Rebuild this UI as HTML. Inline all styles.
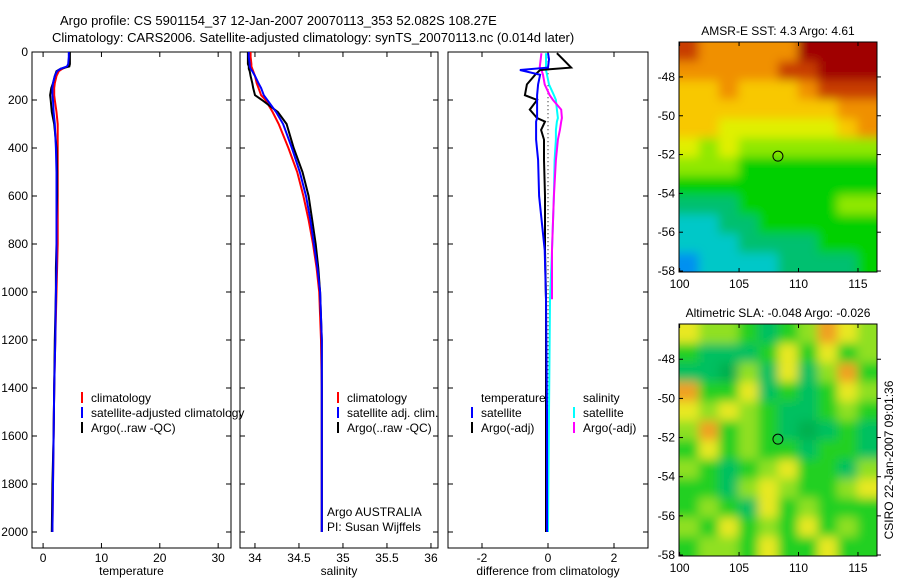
<!DOCTYPE html>
<html><head><meta charset="utf-8"><style>
body{margin:0;background:#fff;}
svg{display:block;font-family:"Liberation Sans",sans-serif;}
</style></head><body>
<svg id="fig" width="900" height="580" viewBox="0 0 900 580">
<defs>
<filter id="soft" x="-5%" y="-5%" width="110%" height="110%"><feGaussianBlur stdDeviation="5"/></filter>
<clipPath id="clip1"><rect x="679" y="42" width="198" height="230"/></clipPath>
<clipPath id="clip2"><rect x="679" y="324" width="198" height="232"/></clipPath>
</defs>
<text x="60" y="25" font-size="13">Argo profile: CS 5901154_37 12-Jan-2007 20070113_353 52.082S 108.27E</text>
<text x="52" y="42" font-size="13">Climatology: CARS2006. Satellite-adjusted climatology: synTS_20070113.nc (0.014d later)</text>
<g id="g"></g>
</svg>
<script>
// ---------- data ----------
const depths = [0,20,50,60,70,80,100,130,150,180,200,250,300,400,500,600,700,800,900,1000,1200,1400,1600,1800,2000];
const tempArgo = [4.6,4.6,4.6,4.5,3.0,2.3,2.0,1.7,1.4,1.2,1.3,1.5,1.9,2.3,2.4,2.4,2.3,2.3,2.2,2.2,2.0,1.9,1.8,1.6,1.5];
const tempClim = [4.5,4.5,4.4,4.2,3.3,2.7,2.3,2.0,1.9,1.9,2.0,2.3,2.5,2.5,2.5,2.5,2.5,2.5,2.4,2.3,2.1,1.9,1.8,1.7,1.6];
const tempSat = [4.4,4.4,4.3,4.1,3.0,2.4,2.0,1.7,1.6,1.6,1.7,1.8,2.0,2.2,2.3,2.3,2.3,2.3,2.3,2.2,2.1,1.9,1.8,1.7,1.6];
const salArgo = [33.92,33.92,33.92,33.93,33.93,33.94,33.95,33.97,33.98,34.0,34.08,34.26,34.36,34.44,34.54,34.61,34.65,34.69,34.72,34.74,34.76,34.76,34.76,34.76,34.76];
const salClim = [33.95,33.95,33.96,33.96,33.97,33.98,34.0,34.02,34.04,34.07,34.12,34.2,34.27,34.38,34.48,34.55,34.61,34.66,34.7,34.73,34.75,34.76,34.76,34.76,34.76];
const salSat = [33.93,33.93,33.94,33.94,33.95,33.97,34.0,34.04,34.07,34.1,34.14,34.24,34.32,34.42,34.51,34.58,34.63,34.67,34.71,34.74,34.76,34.76,34.76,34.76,34.76];
const diffDepths = [5,30,65,75,95,135,180,200,240,275,290,325,365,450,600,825,1030,1500,2000];
const dTempArgo = [0.27,0.45,0.7,-0.24,-0.39,-0.64,-0.7,-0.33,-0.55,-0.33,-0.09,-0.21,-0.12,-0.12,-0.09,-0.09,-0.06,-0.06,-0.06];
const dTempSat = [0,0.03,0,-0.85,-0.24,-0.3,-0.33,-0.33,-0.33,-0.33,-0.36,-0.36,-0.36,-0.3,-0.27,-0.1,-0.06,-0.03,-0.03];
const dSalSat = [-0.06,-0.06,-0.06,-0.06,-0.03,0.03,0.18,0.24,0.27,0.3,0.27,0.24,0.24,0.2,0.18,0.12,0.06,0.03,0];
const dSalArgo = [-0.2,-0.22,-0.25,-0.2,-0.15,-0.1,0.05,0.15,0.4,0.42,0.4,0.36,0.3,0.24,0.18,0.12,0.12,null,null];
const depthTicks = [0,200,400,600,800,1000,1200,1400,1600,1800,2000];
const tempTicks = [0,10,20,30];
const salTicks = [34,34.5,35,35.5,36];
const diffTicks = [-2,0,2];
const sstPalette = ['#a00000','#c83c00','#f09000','#f8c800','#e0f000','#90e800','#00d000','#00c070','#00c8c8','#0090f0'];
const sstGrid = [
[1,2,2,2,2,2,0,0,0,0],[2,2,2,2,2,1,1,0,0,0],[3,3,2,3,3,3,2,1,1,1],[3,3,3,3,3,3,3,3,2,2],
[3,3,4,4,4,4,4,4,3,2],[4,5,4,5,5,5,5,5,5,5],[5,5,5,6,6,6,6,6,6,6],[6,6,6,6,6,6,6,6,6,6],
[7,7,7,6,6,6,6,6,5,5],[8,8,7,7,6,6,6,6,6,6],[8,8,8,7,7,7,7,6,6,6],[9,8,8,8,8,7,7,7,7,6]];
const slaPalette = ['#00b050','#00c060','#20d020','#90e020','#e8e820','#f0a020'];
const slaGrid = [
[4,3,3,2,1,2,3,5,4,3],[2,1,1,1,2,4,2,4,2,3],[1,1,0,3,1,4,1,3,5,2],[5,2,2,4,1,2,1,2,4,3],
[4,3,4,3,2,1,1,2,3,2],[3,5,2,3,2,1,0,1,2,1],[2,4,2,3,2,2,1,2,2,1],[3,2,1,2,3,4,2,2,1,3],
[2,2,1,3,4,3,2,2,3,4],[2,3,2,1,4,2,3,2,2,2],[3,2,4,2,3,2,4,2,3,2],[2,3,3,2,4,2,2,4,2,2]];
const lonTicks = [100,105,110,115];
const latTicks = [48,50,52,54,56,58];
const argoLon = 108.27, argoLat = 52.082;

// ---------- helpers ----------
const NS='http://www.w3.org/2000/svg';
const G=document.getElementById('g');
function mk(tag,attrs,parent){const e=document.createElementNS(NS,tag);for(const k in attrs)e.setAttribute(k,attrs[k]);(parent||G).appendChild(e);return e;}
const yD = d => 52 + d*0.24;
const panels = [
 {x0:32,x1:231,vmin:-1.9,vmax:32.2,ticks:tempTicks,label:'temperature',name:'temperature-panel'},
 {x0:240,x1:438,vmin:33.83,vmax:36.08,ticks:salTicks,label:'salinity',name:'salinity-panel'},
 {x0:448,x1:648,vmin:-3.03,vmax:3.03,ticks:diffTicks,label:'difference from climatology',name:'difference-panel'}];
panels.forEach(p=>{p.sx=v=>p.x0+(v-p.vmin)/(p.vmax-p.vmin)*(p.x1-p.x0);});

panels.forEach((p,i)=>{
  const r=mk('rect',{x:p.x0,y:52,width:p.x1-p.x0,height:496,fill:'none',stroke:'#000','stroke-width':1});
  
  
  p.ticks.forEach(t=>{
    const x=p.sx(t);
    mk('line',{x1:x,x2:x,y1:548,y2:543,stroke:'#000'});
    mk('line',{x1:x,x2:x,y1:52,y2:57,stroke:'#000'});
    const tx=mk('text',{x:x,y:562,'font-size':12,'text-anchor':'middle'});tx.textContent=t;
    
    
  });
  depthTicks.forEach(d=>{
    mk('line',{x1:p.x0,x2:p.x0+5,y1:yD(d),y2:yD(d),stroke:'#000'});
    mk('line',{x1:p.x1,x2:p.x1-5,y1:yD(d),y2:yD(d),stroke:'#000'});
    if(i===0){const t=mk('text',{x:28,y:yD(d)+4,'font-size':12,'text-anchor':'end'});t.textContent=d;
      
      }
  });
  const xl=mk('text',{x:(p.x0+p.x1)/2,y:575,'font-size':12,'text-anchor':'middle'});xl.textContent=p.label;
  
  
});

function line(p,vals,ds,color,name,w,dash){
  let pts=[];
  vals.forEach((v,k)=>{if(v!==null)pts.push(p.sx(v).toFixed(1)+','+yD(ds[k]).toFixed(1));});
  const a={points:pts.join(' '),fill:'none',stroke:color,'stroke-width':w||2};
  if(dash)a['stroke-dasharray']=dash;
  const e=mk('polyline',a);
  
  
}
line(panels[0],tempClim,depths,'#f00','temp-climatology-line');
line(panels[0],tempArgo,depths,'#000','temp-argo-line');
line(panels[0],tempSat,depths,'#00f','temp-satellite-line');
line(panels[1],salClim,depths,'#f00','sal-climatology-line');
line(panels[1],salArgo,depths,'#000','sal-argo-line');
line(panels[1],salSat,depths,'#00f','sal-satellite-line');
const p3=panels[2];
const zl=mk('line',{x1:p3.sx(0),x2:p3.sx(0),y1:yD(diffDepths[0]),y2:yD(2000),stroke:'#000','stroke-dasharray':'1,3'});


line(p3,dSalSat,diffDepths,'#0ff','diff-sal-satellite-line');
line(p3,dSalArgo,diffDepths,'#f0f','diff-sal-argo-line');
line(p3,dTempArgo,diffDepths,'#000','diff-temp-argo-line');
line(p3,dTempSat,diffDepths,'#00f','diff-temp-satellite-line');

// legends
function legend(entries,x,y,name){
  entries.forEach((e,k)=>{
    const yy=y+k*15;
    if(e[1]){const l=mk('line',{x1:x,x2:x,y1:yy-10,y2:yy+1,stroke:e[1],'stroke-width':2});
      
      }
    const t=mk('text',{x:x+9,y:yy,'font-size':12});t.textContent=e[0];
    
    
  });
}
legend([['climatology','#f00'],['satellite-adjusted climatology','#00f'],['Argo(..raw -QC)','#000']],82,402,'temp-legend');
legend([['climatology','#f00'],['satellite adj. clim.','#00f'],['Argo(..raw -QC)','#000']],338,402,'sal-legend');
legend([['temperature',null],['satellite','#00f'],['Argo(-adj)','#000']],472,402,'diff-temp-legend');
legend([['salinity',null],['satellite','#0ff'],['Argo(-adj)','#f0f']],574,402,'diff-sal-legend');
const a1=mk('text',{x:327,y:516,'font-size':12});a1.textContent='Argo AUSTRALIA';


const a2=mk('text',{x:327,y:531,'font-size':12});a2.textContent='PI: Susan Wijffels';



// maps
function map(top,bottom,grid,pal,title,name,clip){
  const x0=679,x1=877,lon0=99.95,lon1=116.6;
  const lonX=v=>x0+(v-lon0)/(lon1-lon0)*(x1-x0);
  const lat0=46.2, lat1=58.05;
  const latY=v=>top+(v-lat0)/(lat1-lat0)*(bottom-top);
  const rows=grid.length, cols=grid[0].length, cw=(x1-x0)/cols, ch=(bottom-top)/rows;
  const cg=mk('g',{'clip-path':'url(#'+clip+')'});
  const bg=mk('g',{filter:'url(#soft)'},cg);
  
  
  grid.forEach((row,r)=>row.forEach((v,c)=>{
    // extend edge cells outward so blur doesn't fade at border
    const ex0=c===0?-10:0, ex1=c===cols-1?10:0, ey0=r===0?-10:0, ey1=r===rows-1?10:0;
    const e=mk('rect',{x:x0+c*cw+ex0,y:top+r*ch+ey0,width:cw+0.6-ex0+ex1,height:ch+0.6-ey0+ey1,fill:pal[v]},bg);
    
    
  }));
  const f=mk('rect',{x:x0,y:top,width:x1-x0,height:bottom-top,fill:'none',stroke:'#000'});
  
  
  lonTicks.forEach(t=>{const x=lonX(t);mk('line',{x1:x,x2:x,y1:bottom,y2:bottom-4,stroke:'#000'});mk('line',{x1:x,x2:x,y1:top,y2:top+4,stroke:'#000'});
    const tx=mk('text',{x:x,y:bottom+16,'font-size':12,'text-anchor':'middle'});tx.textContent=t;
    
    });
  latTicks.forEach(t=>{const y=latY(t);mk('line',{x1:x0,x2:x0+4,y1:y,y2:y,stroke:'#000'});mk('line',{x1:x1,x2:x1+4,y1:y,y2:y,stroke:'#000'});
    const tx=mk('text',{x:x0-4,y:y+4,'font-size':12,'text-anchor':'end'});tx.textContent='-'+t;
    
    });
  const c=mk('circle',{cx:lonX(argoLon),cy:latY(argoLat),r:5,fill:'none',stroke:'#000'});
  
  
  const t=mk('text',{x:(x0+x1)/2,y:top-7,'font-size':12,'text-anchor':'middle'});t.textContent=title;
  
  
}
map(42,272,sstGrid,sstPalette,'AMSR-E SST: 4.3 Argo: 4.61','sst-map','clip1');
map(324,556,slaGrid,slaPalette,'Altimetric SLA: -0.048 Argo: -0.026','sla-map','clip2');
const cs=mk('text',{x:0,y:0,'font-size':12,'text-anchor':'middle',transform:'translate(893,460) rotate(-90)'});
cs.textContent='CSIRO 22-Jan-2007 09:01:36';


</script>
</body></html>
